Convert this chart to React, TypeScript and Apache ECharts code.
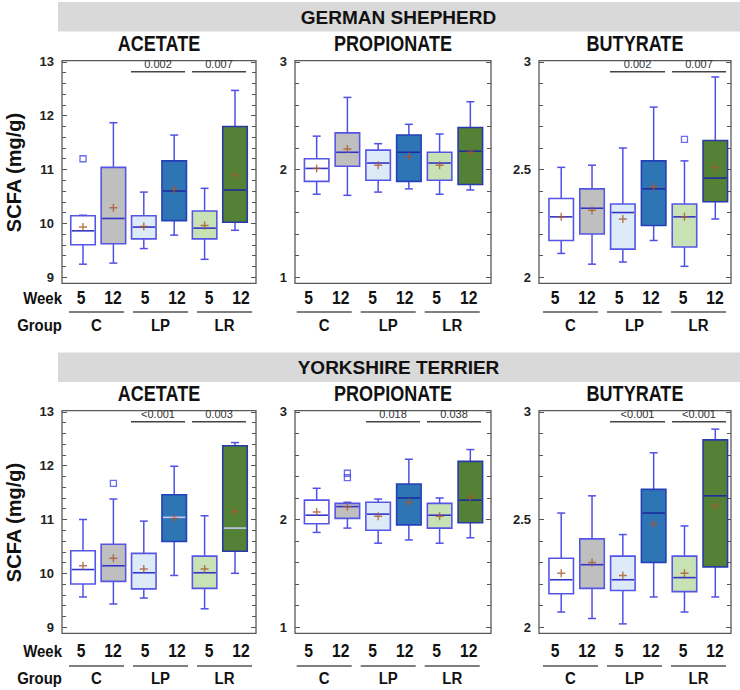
import React, { useEffect, useRef } from "react";
import * as echarts from "echarts";

// ---------- DATA ----------
const weeks = ["5", "12", "5", "12", "5", "12"];
const groups = ["C", "LP", "LR"];
const metrics = ["ACETATE", "PROPIONATE", "BUTYRATE"];
const breeds = ["GERMAN SHEPHERD", "YORKSHIRE TERRIER"];

// box stats: [lower whisker, Q1, median, Q3, upper whisker]
const gsAcetateBoxes = [
  [9.24, 9.6, 9.86, 10.14, 10.15],
  [9.26, 9.62, 10.09, 11.04, 11.87],
  [9.53, 9.71, 9.93, 10.14, 10.58],
  [9.78, 10.05, 10.6, 11.16, 11.64],
  [9.33, 9.71, 9.91, 10.23, 10.65],
  [9.87, 10.02, 10.62, 11.8, 12.47],
];
const gsAcetateMeans = [9.93, 10.29, 9.94, 10.63, 9.96, 10.9];
const gsAcetateOutliers = [[0, 11.2]];
const gsAcetatePvals = [[2, 3, "0.002"], [4, 5, "0.007"]];

const gsPropionateBoxes = [
  [1.77, 1.89, 2.01, 2.1, 2.31],
  [1.76, 2.03, 2.16, 2.34, 2.67],
  [1.79, 1.9, 2.06, 2.18, 2.24],
  [1.82, 1.89, 2.16, 2.32, 2.42],
  [1.77, 1.9, 2.06, 2.16, 2.33],
  [1.81, 1.86, 2.17, 2.39, 2.63],
];
const gsPropionateMeans = [2.01, 2.19, 2.04, 2.12, 2.04, 2.16];
const gsPropionateOutliers: number[][] = [];
const gsPropionatePvals: any[] = [];

const gsButyrateBoxes = [
  [2.11, 2.17, 2.28, 2.365, 2.51],
  [2.06, 2.2, 2.32, 2.41, 2.52],
  [2.07, 2.13, 2.3, 2.34, 2.6],
  [2.17, 2.24, 2.41, 2.54, 2.79],
  [2.05, 2.14, 2.28, 2.34, 2.54],
  [2.27, 2.35, 2.46, 2.635, 2.93],
];
const gsButyrateMeans = [2.28, 2.31, 2.27, 2.42, 2.28, 2.51];
const gsButyrateOutliers = [[4, 2.64]];
const gsButyratePvals = [[2, 3, "0.002"], [4, 5, "0.007"]];

const ytAcetateBoxes = [
  [9.56, 9.8, 10.07, 10.42, 11.0],
  [9.43, 9.85, 10.14, 10.54, 11.38],
  [9.54, 9.71, 10.01, 10.37, 10.97],
  [9.96, 10.59, 11.04, 11.46, 11.99],
  [9.34, 9.72, 10.01, 10.32, 11.07],
  [10.0, 10.41, 10.84, 12.37, 12.43],
];
const ytAcetateMeans = [10.14, 10.28, 10.08, 11.02, 10.08, 11.15];
const ytAcetateOutliers = [[1, 11.67]];
const ytAcetatePvals = [[2, 3, "<0.001"], [4, 5, "0.003"]];

const ytPropionateBoxes = [
  [1.88, 1.96, 2.04, 2.18, 2.29],
  [1.92, 2.01, 2.12, 2.15, 2.16],
  [1.78, 1.9, 2.05, 2.16, 2.19],
  [1.81, 1.95, 2.2, 2.33, 2.56],
  [1.78, 1.92, 2.04, 2.15, 2.2],
  [1.83, 1.97, 2.18, 2.54, 2.65],
];
const ytPropionateMeans = [2.07, 2.12, 2.03, 2.16, 2.03, 2.21];
const ytPropionateOutliers = [[1, 2.39], [1, 2.43]];
const ytPropionatePvals = [[2, 3, "0.018"], [4, 5, "0.038"]];

const ytButyrateBoxes = [
  [2.07, 2.155, 2.22, 2.32, 2.53],
  [2.04, 2.18, 2.29, 2.41, 2.61],
  [2.015, 2.17, 2.22, 2.33, 2.43],
  [2.14, 2.3, 2.53, 2.64, 2.81],
  [2.07, 2.165, 2.23, 2.33, 2.47],
  [2.14, 2.28, 2.61, 2.87, 2.92],
];
const ytButyrateMeans = [2.25, 2.3, 2.24, 2.48, 2.25, 2.565];
const ytButyrateOutliers: number[][] = [];
const ytButyratePvals = [[2, 3, "<0.001"], [4, 5, "<0.001"]];

const axisRanges = [
  { min: 9, max: 13, interval: 1 },
  { min: 1, max: 3, interval: 1 },
  { min: 2, max: 3, interval: 0.5 },
];

// ---------- STYLE / LAYOUT ----------
const FONT = '"Liberation Sans", Arial, Helvetica, sans-serif';
const boxFills = ["#ffffff", "#bfbfbf", "#ddeaf7", "#2e75b6", "#c8e1b5", "#538135"];
const boxBorders = ["#5656e6", "#5656e6", "#5656e6", "#2440b8", "#5656e6", "#2a3aa8"];
const medianDark = ["#3434c8", "#3434c8", "#3434c8", "#1c2c9c", "#3434c8", "#1c2c9c"];
const medianLightAlt = ["#3434c8", "#3434c8", "#3434c8", "#c8c8f2", "#3434c8", "#c8c8f2"];
const WHISKER = "#5050e6";
const MEAN_COLOR = "#a8582a";
const PLUS = "path://M3.3,0h1.4v3.3h3.3v1.4h-3.3v3.3h-1.4v-3.3h-3.3v-1.4h3.3z";

const PANEL_X = [[62, 256], [295, 491], [539, 731]];
const INNER_X = [[67.8, 250.2], [301.3, 485.7], [545.8, 730.7]];
const ROW_TOP = [61.9, 411.9];
const PLOT_H = 215.2;
const TABLE_LEFT = [69, 296.7, 543];
const WEEK_Y = [298, 651];
const GLINE_Y = [312, 666];
const GLABEL_Y = [325.5, 678.5];
const HEADER_Y = [2, 352.5];

const panels = [
  { row: 0, col: 0, boxes: gsAcetateBoxes, means: gsAcetateMeans, outliers: gsAcetateOutliers, pvals: gsAcetatePvals, medians: medianDark },
  { row: 0, col: 1, boxes: gsPropionateBoxes, means: gsPropionateMeans, outliers: gsPropionateOutliers, pvals: gsPropionatePvals, medians: medianDark },
  { row: 0, col: 2, boxes: gsButyrateBoxes, means: gsButyrateMeans, outliers: gsButyrateOutliers, pvals: gsButyratePvals, medians: medianDark },
  { row: 1, col: 0, boxes: ytAcetateBoxes, means: ytAcetateMeans, outliers: ytAcetateOutliers, pvals: ytAcetatePvals, medians: medianLightAlt },
  { row: 1, col: 1, boxes: ytPropionateBoxes, means: ytPropionateMeans, outliers: ytPropionateOutliers, pvals: ytPropionatePvals, medians: medianDark },
  { row: 1, col: 2, boxes: ytButyrateBoxes, means: ytButyrateMeans, outliers: ytButyrateOutliers, pvals: ytButyratePvals, medians: medianDark },
];

function boxRenderer(medians: string[]) {
  return (params: any, api: any) => {
    const i = params.dataIndex;
    const x = api.value(0);
    const lo = api.coord([x, api.value(1)]);
    const q1 = api.coord([x, api.value(2)]);
    const md = api.coord([x, api.value(3)]);
    const q3 = api.coord([x, api.value(4)]);
    const hi = api.coord([x, api.value(5)]);
    const cx = lo[0];
    const bw = 24.5;
    const cap = 8;
    const ws = { stroke: WHISKER, lineWidth: 1.5 };
    return {
      type: "group",
      children: [
        { type: "line", shape: { x1: cx, y1: q1[1], x2: cx, y2: lo[1] }, style: ws },
        { type: "line", shape: { x1: cx - cap / 2, y1: lo[1], x2: cx + cap / 2, y2: lo[1] }, style: ws },
        { type: "line", shape: { x1: cx, y1: q3[1], x2: cx, y2: hi[1] }, style: ws },
        { type: "line", shape: { x1: cx - cap / 2, y1: hi[1], x2: cx + cap / 2, y2: hi[1] }, style: ws },
        {
          type: "rect",
          shape: { x: cx - bw / 2, y: q3[1], width: bw, height: q1[1] - q3[1] },
          style: { fill: boxFills[i], stroke: boxBorders[i], lineWidth: 1.6 },
        },
        {
          type: "line",
          shape: { x1: cx - bw / 2 + 1, y1: md[1], x2: cx + bw / 2 - 1, y2: md[1] },
          style: { stroke: medians[i], lineWidth: 1.6 },
        },
      ],
    };
  };
}

function buildOption() {
  const grid: any[] = [];
  const xAxis: any[] = [];
  const yAxis: any[] = [];
  const series: any[] = [];
  const graphic: any[] = [];

  panels.forEach((p, i) => {
    const [il, ir] = INNER_X[p.col];
    const [pl, pr] = PANEL_X[p.col];
    const rng = axisRanges[p.col];
    grid.push({ left: il, width: ir - il, top: ROW_TOP[p.row], height: PLOT_H });
    xAxis.push({
      type: "category",
      gridIndex: i,
      data: weeks.map((w, k) => groups[k >> 1] + " " + w),
      axisLine: { show: false },
      axisTick: { show: false },
      axisLabel: { show: false },
      splitLine: { show: false },
    });
    const tickStyle = { color: "#555", width: 1 };
    yAxis.push({
      type: "value",
      gridIndex: i,
      position: "left",
      offset: il - pl,
      min: rng.min,
      max: rng.max,
      interval: rng.interval,
      axisLine: { show: false },
      axisTick: { show: true, inside: true, length: 5, lineStyle: tickStyle },
      minorTick: { show: true, splitNumber: 5, length: 4, lineStyle: tickStyle },
      splitLine: { show: false },
      minorSplitLine: { show: false },
      axisLabel: { fontSize: 13, fontWeight: "bold", color: "#222", margin: 8, fontFamily: FONT },
    });
    yAxis.push({
      type: "value",
      gridIndex: i,
      position: "right",
      offset: pr - ir,
      min: rng.min,
      max: rng.max,
      interval: rng.interval,
      axisLine: { show: false },
      axisTick: { show: true, inside: true, length: 5, lineStyle: tickStyle },
      minorTick: { show: true, splitNumber: 5, length: 4, lineStyle: tickStyle },
      splitLine: { show: false },
      minorSplitLine: { show: false },
      axisLabel: { show: false },
    });
    const yi = 2 * i;
    series.push({
      type: "custom",
      xAxisIndex: i,
      yAxisIndex: yi,
      data: p.boxes.map((b, k) => [k, ...b]),
      encode: { x: 0, y: [1, 2, 3, 4, 5] },
      renderItem: boxRenderer(p.medians),
      silent: true,
      z: 2,
    });
    series.push({
      type: "scatter",
      xAxisIndex: i,
      yAxisIndex: yi,
      data: p.means.map((m, k) => [k, m]),
      symbol: PLUS,
      symbolSize: 8,
      itemStyle: { color: MEAN_COLOR },
      silent: true,
      z: 5,
    });
    if (p.outliers.length) {
      series.push({
        type: "scatter",
        xAxisIndex: i,
        yAxisIndex: yi,
        data: p.outliers,
        symbol: "rect",
        symbolSize: 6,
        itemStyle: { color: "rgba(0,0,0,0)", borderColor: "#4646e6", borderWidth: 1.3 },
        silent: true,
        z: 5,
      });
    }

    // panel border
    graphic.push({
      type: "rect",
      shape: { x: pl, y: ROW_TOP[p.row] - 1.2, width: pr - pl, height: PLOT_H + 7.4 },
      style: { fill: "none", stroke: "#595959", lineWidth: 1.3 },
      z: 10,
    });
    // title
    graphic.push({
      type: "text",
      x: (pl + pr) / 2,
      y: ROW_TOP[p.row] - 19,
      scaleX: 0.82,
      style: {
        text: metrics[p.col],
        fontSize: 22,
        fontWeight: "bold",
        fontFamily: FONT,
        fill: "#111",
        align: "center",
        verticalAlign: "middle",
      },
    });
    // week / group table
    const tl = TABLE_LEFT[p.col];
    groups.forEach((g, gi) => {
      const x0 = tl + 64 * gi;
      graphic.push({
        type: "line",
        shape: { x1: x0, y1: GLINE_Y[p.row], x2: x0 + 55, y2: GLINE_Y[p.row] },
        style: { stroke: "#555", lineWidth: 1.3 },
      });
      graphic.push({
        type: "text",
        x: x0 + 27.5,
        y: GLABEL_Y[p.row],
        scaleX: 0.88,
        style: { text: g, fontSize: 17, fontWeight: "bold", fontFamily: FONT, fill: "#111", align: "center", verticalAlign: "middle" },
      });
      [0, 1].forEach((wk) => {
        graphic.push({
          type: "text",
          x: x0 + (wk === 0 ? 12 : 44),
          y: WEEK_Y[p.row],
          scaleX: 0.87,
          style: {
            text: weeks[gi * 2 + wk],
            fontSize: 18,
            fontWeight: "bold",
            fontFamily: FONT,
            fill: "#111",
            align: "center",
            verticalAlign: "middle",
          },
        });
      });
    });
  });

  // headers, row labels
  breeds.forEach((b, r) => {
    graphic.push({
      type: "rect",
      shape: { x: 58, y: HEADER_Y[r], width: 682, height: 29.5 },
      style: { fill: "#d9d9d9" },
      z: -1,
    });
    graphic.push({
      type: "text",
      x: 398.5,
      y: HEADER_Y[r] + 15,
      style: { text: b, fontSize: 19, fontWeight: "bold", fontFamily: FONT, fill: "#111", align: "center", verticalAlign: "middle" },
    });
    graphic.push({
      type: "text",
      x: 14,
      y: ROW_TOP[r] + PLOT_H / 2 + 3,
      rotation: Math.PI / 2,
      style: { text: "SCFA (mg/g)", fontSize: 20, fontWeight: "bold", fontFamily: FONT, fill: "#111", align: "center", verticalAlign: "middle" },
    });
    graphic.push({
      type: "text",
      x: 62,
      y: WEEK_Y[r],
      scaleX: 0.88,
      style: { text: "Week", fontSize: 17, fontWeight: "bold", fontFamily: FONT, fill: "#111", align: "right", verticalAlign: "middle" },
    });
    graphic.push({
      type: "text",
      x: 62,
      y: GLABEL_Y[r] - 0.5,
      scaleX: 0.88,
      style: { text: "Group", fontSize: 17, fontWeight: "bold", fontFamily: FONT, fill: "#111", align: "right", verticalAlign: "middle" },
    });
  });

  return {
    option: {
      animation: false,
      backgroundColor: "#ffffff",
      textStyle: { fontFamily: FONT },
      grid,
      xAxis,
      yAxis,
      series,
      graphic: { elements: graphic },
    },
    graphic,
  };
}

// significance brackets, positioned through the chart's own scales
function bracketElements(chart: any) {
  const out: any[] = [];
  panels.forEach((p, i) => {
    const rng = axisRanges[p.col];
    p.pvals.forEach((pv: any[]) => {
      const a = chart.convertToPixel({ gridIndex: i }, [pv[0], rng.max]);
      const b = chart.convertToPixel({ gridIndex: i }, [pv[1], rng.max]);
      const y = Math.round(a[1] + 9);
      const x1 = Math.round(a[0] - 12.5);
      const x2 = Math.round(b[0] + 11);
      out.push({
        type: "rect",
        shape: { x: x1, y: y, width: x2 - x1, height: 1.6 },
        style: { fill: "#444444" },
        z: 30,
      });
      out.push({
        type: "text",
        x: (x1 + x2) / 2,
        y: y - 2,
        z: 20,
        style: {
          text: String(pv[2]),
          fontSize: 11,
          fontFamily: FONT,
          fill: "#333333",
          align: "center",
          verticalAlign: "bottom",
        },
      });
    });
  });
  return out;
}

export default function App() {
  const ref = useRef<HTMLDivElement>(null);
  useEffect(() => {
    if (!ref.current) return;
    const chart = echarts.init(ref.current, undefined, { renderer: "svg" });
    const built = buildOption();
    chart.setOption(built.option as any);
    const all = built.graphic.concat(bracketElements(chart));
    chart.setOption({ graphic: { elements: all } } as any);
    return () => chart.dispose();
  }, []);
  return (
    <div
      ref={ref}
      style={{ position: "fixed", left: 0, top: 0, width: 740, height: 690, background: "#fff" }}
    />
  );
}
